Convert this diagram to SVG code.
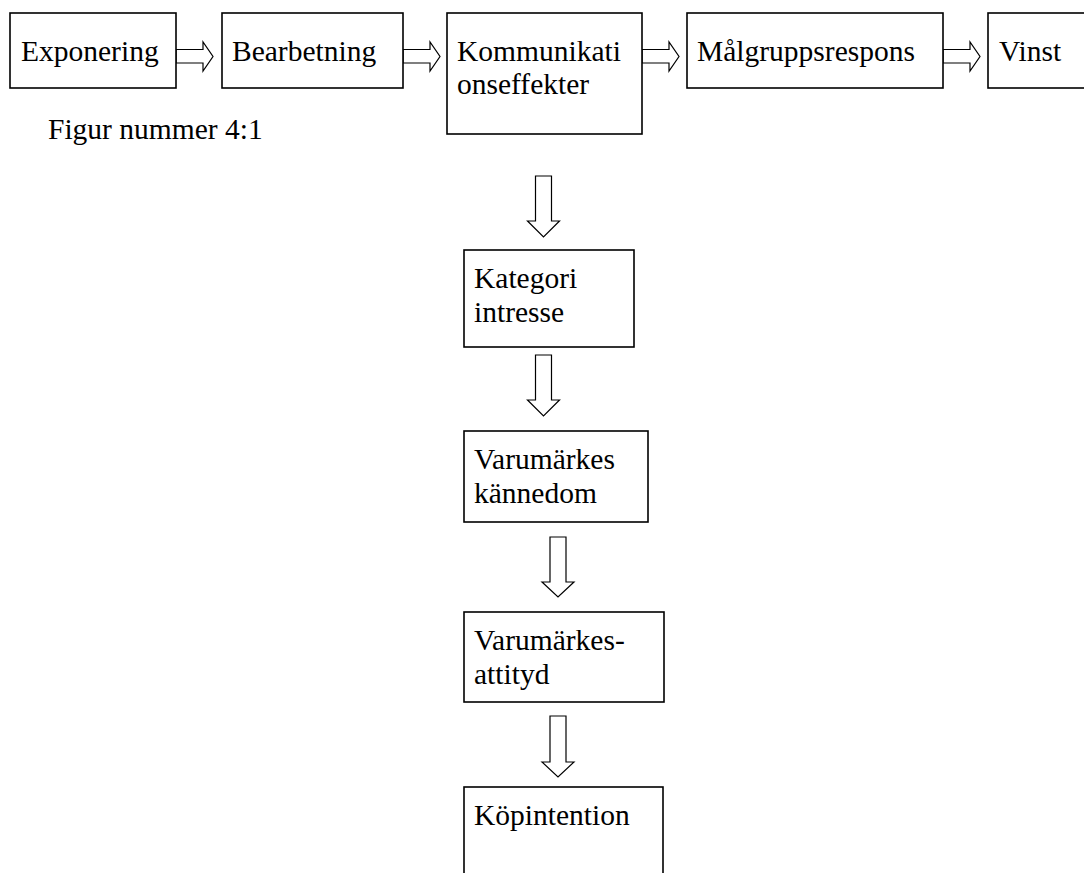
<svg xmlns="http://www.w3.org/2000/svg" width="1084" height="873" viewBox="0 0 1084 873">
<style>
.box{fill:#fff;stroke:#000;stroke-width:1.6}
.arr{fill:#fff;stroke:#000;stroke-width:1.2;stroke-linejoin:miter}
text{font-family:"Liberation Serif","Times New Roman",serif;font-size:29.5px;fill:#000}
</style>
<rect width="1084" height="873" fill="#fff"/>
<g id="connectors">
<polygon class="arr" points="176,49.5 203,49.5 203,42 213,56.5 203,71 203,63 176,63"/>
<polygon class="arr" points="403,49.5 430,49.5 430,42 440,56.5 430,71 430,63 403,63"/>
<polygon class="arr" points="642,49.5 669,49.5 669,42 679,56.5 669,71 669,63 642,63"/>
<polygon class="arr" points="943,49.5 970,49.5 970,42 980,56.5 970,71 970,63 943,63"/>
<polygon class="arr" points="535.5,176 551.5,176 551.5,221 559.5,221 543.5,237 527.5,221 535.5,221"/>
<polygon class="arr" points="535.5,355 551.5,355 551.5,400 559.5,400 543.5,416 527.5,400 535.5,400"/>
<polygon class="arr" points="550,537 566,537 566,582 574,582 558,597 542,582 550,582"/>
<polygon class="arr" points="550,716 566,716 566,762 574,762 558,777 542,762 550,762"/>
</g>
<g id="exponering"><rect class="box" x="10" y="13" width="166" height="75"/><text x="21" y="61">Exponering</text></g>
<g id="bearbetning"><rect class="box" x="222" y="13" width="181" height="75"/><text x="232" y="61">Bearbetning</text></g>
<g id="kommunikationseffekter"><rect class="box" x="447" y="13" width="195" height="121"/><text x="457" y="61">Kommunikati</text><text x="457" y="94">onseffekter</text></g>
<g id="malgruppsrespons"><rect class="box" x="687" y="13" width="256" height="75"/><text x="697" y="61">Målgruppsrespons</text></g>
<g id="vinst"><rect class="box" x="988" y="13" width="110" height="75"/><text x="999" y="61">Vinst</text></g>
<g id="figur"><text x="48" y="139">Figur nummer 4:1</text></g>
<g id="kategori"><rect class="box" x="464" y="250" width="170" height="97"/><text x="474" y="288">Kategori</text><text x="474" y="322">intresse</text></g>
<g id="kannedom"><rect class="box" x="464" y="431" width="184" height="91"/><text x="474" y="469">Varumärkes</text><text x="474" y="503">kännedom</text></g>
<g id="attityd"><rect class="box" x="464" y="612" width="200" height="90"/><text x="474" y="650">Varumärkes-</text><text x="474" y="684">attityd</text></g>
<g id="kopintention"><rect class="box" x="464" y="787" width="199" height="100"/><text x="474" y="825">Köpintention</text></g>
</svg>
